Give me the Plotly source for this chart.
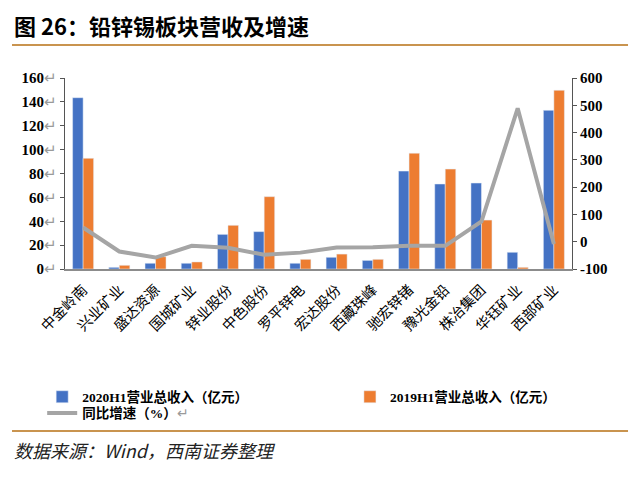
import plotly.graph_objects as go

companies = ['中金岭南', '兴业矿业', '盛达资源', '国城矿业', '锌业股份', '中色股份', '罗平锌电',
             '宏达股份', '西藏珠峰', '驰宏锌锗', '豫光金铅', '株冶集团', '华钰矿业', '西部矿业']
rev_2020h1 = [143.5, 1.4, 4.8, 4.8, 29.0, 31.3, 4.8, 9.8, 7.2, 82.0, 71.2, 72.0, 14.0, 132.9]
rev_2019h1 = [92.7, 3.1, 10.3, 5.9, 36.6, 60.6, 8.1, 12.5, 8.1, 97.0, 83.7, 41.0, 1.4, 149.7]
growth = [52, -36, -58, -15, -22, -48, -40, -21, -20, -15, -15, 74, 489, -8]

left_ticks = [0, 20, 40, 60, 80, 100, 120, 140, 160]
right_ticks = [-100, 0, 100, 200, 300, 400, 500, 600]

pm = "<span style='color:#9a9a9a;font-weight:normal'>↵</span>"
num_font = dict(family='Liberation Serif', size=15, color='black')
leg_font = dict(family='Liberation Serif, Noto Sans CJK SC', size=13.5, color='black')

fig = go.Figure()
fig.add_trace(go.Bar(x=companies, y=rev_2020h1, name='<b>2020H1营业总收入（亿元）</b>',
                     marker_color='#4472C4', legend='legend'))
fig.add_trace(go.Bar(x=companies, y=rev_2019h1, name='<b>2019H1营业总收入（亿元）</b>',
                     marker_color='#ED7D31', legend='legend2'))
fig.add_trace(go.Scatter(x=companies, y=growth, name='<b>同比增速（%）</b>' + pm, mode='lines',
                         line=dict(color='#A5A5A5', width=4), yaxis='y2', legend='legend3'))

def leg(x, y):
    return dict(orientation='h', x=x, y=y, xanchor='left', yanchor='middle',
                font=leg_font, itemwidth=30, bgcolor='rgba(0,0,0,0)')

# page body adds 8px offset, so the figure is drawn 8px smaller
fig.update_layout(
    width=632, height=482,
    paper_bgcolor='white', plot_bgcolor='white',
    margin=dict(l=57, r=68, t=70, b=221),
    bargap=0.42, bargroupgap=0,
    showlegend=True,
    legend=leg(-0.045, -0.67),
    legend2=leg(0.562, -0.67),
    legend3=leg(-0.045, -0.755),
    xaxis=dict(tickangle=-45, showline=True, linecolor='#8c8c8c', linewidth=1.5,
               ticks='outside', ticklen=5, tickcolor='rgba(0,0,0,0)',
               tickfont=dict(family='Noto Sans CJK SC', size=14.5, color='black'),
               showgrid=False),
    yaxis=dict(range=[0, 160], tickvals=left_ticks,
               ticktext=['<b>%d</b>%s' % (v, pm) for v in left_ticks],
               showline=True, linecolor='#555555', linewidth=1.2, ticks='outside',
               ticklen=4, tickcolor='#555555', showgrid=False, zeroline=False,
               tickfont=num_font),
    yaxis2=dict(range=[-100, 600], tickvals=right_ticks,
                ticktext=['<b>%d</b>' % v for v in right_ticks],
                overlaying='y', side='right', showline=True, linecolor='#555555',
                linewidth=1.2, ticks='outside', ticklen=4, tickcolor='#555555',
                showgrid=False, zeroline=False, tickfont=num_font),
    shapes=[
        dict(type='line', xref='paper', yref='paper', x0=-0.1045, x1=1.1105, y0=1.173, y1=1.173,
             line=dict(color='#C9944F', width=2)),
        dict(type='line', xref='paper', yref='paper', x0=-0.1045, x1=1.1105, y0=-0.848, y1=-0.848,
             line=dict(color='#C9944F', width=2)),
    ],
    annotations=[
        dict(text='<b>图 26：铅锌锡板块营收及增速</b>', xref='paper', yref='paper',
             x=-0.1045, y=1.277, xanchor='left', yanchor='middle', showarrow=False,
             font=dict(family='Noto Sans CJK SC', size=22, color='black')),
        dict(text='<i>数据来源：Wind，西南证券整理</i>', xref='paper', yref='paper',
             x=-0.1045, y=-0.948, xanchor='left', yanchor='middle', showarrow=False,
             font=dict(family='Noto Sans CJK SC', size=18, color='#222222')),
    ],
)

fig.write_html('out.html')
